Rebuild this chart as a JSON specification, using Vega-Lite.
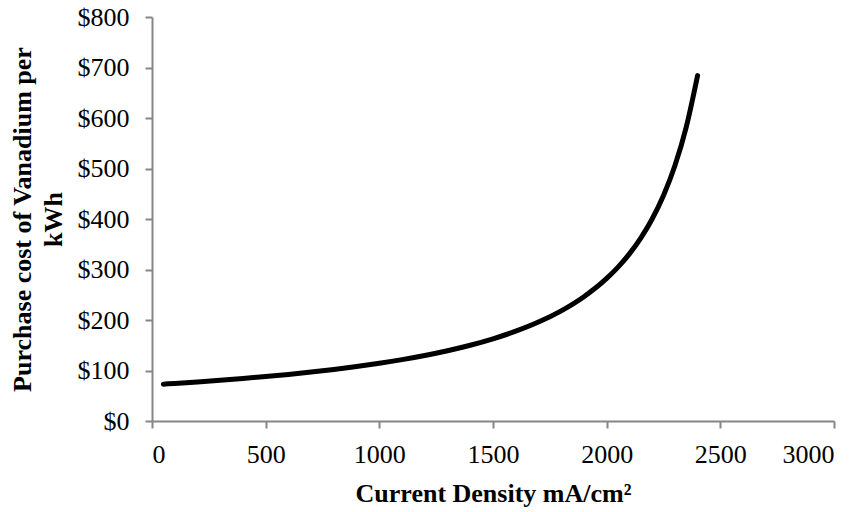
{
  "$schema": "https://vega.github.io/schema/vega-lite/v6.json",
  "width": 682,
  "height": 404,
  "autosize": {"type": "none"},
  "padding": {"left": 152, "top": 17, "right": 32, "bottom": 91},
  "background": "white",
  "config": {
    "view": {"stroke": null},
    "font": "Liberation Serif",
    "axis": {
      "grid": false,
      "domainColor": "#868686",
      "domainWidth": 2,
      "tickColor": "#868686",
      "tickWidth": 2,
      "tickSize": 7,
      "labelFont": "Liberation Serif",
      "labelFontSize": 26,
      "labelColor": "black",
      "titleFont": "Liberation Serif",
      "titleFontSize": 26,
      "titleFontWeight": "bold",
      "titleColor": "black"
    }
  },
  "data": {
    "values": [
      {"cd": 50, "cost": 73},
      {"cd": 100, "cost": 74.4},
      {"cd": 200, "cost": 77.4},
      {"cd": 300, "cost": 80.7},
      {"cd": 400, "cost": 84.2},
      {"cd": 500, "cost": 88.1},
      {"cd": 600, "cost": 92.3},
      {"cd": 700, "cost": 97.0},
      {"cd": 800, "cost": 102.1},
      {"cd": 900, "cost": 107.9},
      {"cd": 1000, "cost": 114.3},
      {"cd": 1100, "cost": 121.5},
      {"cd": 1200, "cost": 129.7},
      {"cd": 1300, "cost": 139.1},
      {"cd": 1400, "cost": 150.0},
      {"cd": 1500, "cost": 162.7},
      {"cd": 1600, "cost": 177.8},
      {"cd": 1700, "cost": 195.9},
      {"cd": 1800, "cost": 218.2},
      {"cd": 1900, "cost": 246.2},
      {"cd": 2000, "cost": 282.4},
      {"cd": 2050, "cost": 304.8},
      {"cd": 2100, "cost": 331.0},
      {"cd": 2150, "cost": 362.3},
      {"cd": 2200, "cost": 400.0},
      {"cd": 2250, "cost": 446.5},
      {"cd": 2300, "cost": 505.3},
      {"cd": 2350, "cost": 581.8},
      {"cd": 2400, "cost": 684}
    ]
  },
  "mark": {"type": "line", "color": "black", "strokeWidth": 5, "strokeCap": "round", "interpolate": "monotone"},
  "encoding": {
    "x": {
      "field": "cd",
      "type": "quantitative",
      "scale": {"domain": [0, 3000], "nice": false},
      "axis": {
        "values": [0, 500, 1000, 1500, 2000, 2500, 3000],
        "format": "d",
        "labelBaseline": "alphabetic",
        "labelPadding": 34,
        "title": "Current Density mA/cm²",
        "titleBaseline": "alphabetic",
        "titleY": 80
      }
    },
    "y": {
      "field": "cost",
      "type": "quantitative",
      "scale": {"domain": [0, 800], "nice": false},
      "axis": {
        "values": [0, 100, 200, 300, 400, 500, 600, 700, 800],
        "format": "$.0f",
        "labelPadding": 16,
        "title": ["Purchase cost  of Vanadium per", "kWh"],
        "titleAngle": -90,
        "titleBaseline": "bottom",
        "titleAlign": "center",
        "titleLineHeight": 31,
        "titleX": -117,
        "titleY": 202
      }
    }
  }
}
